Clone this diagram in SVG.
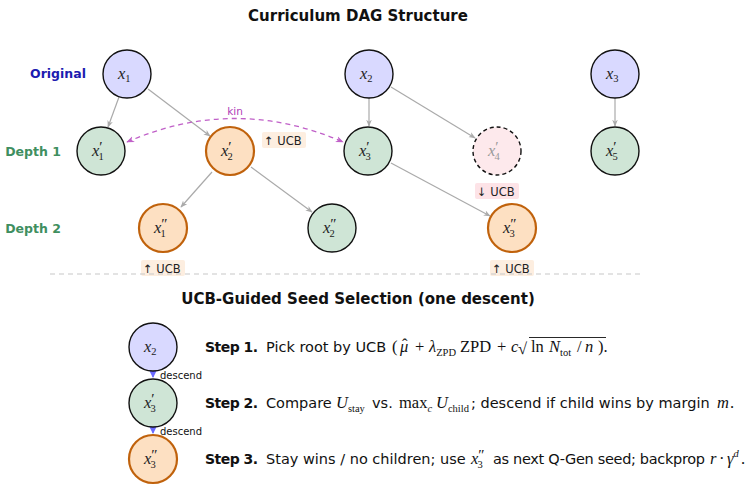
<svg xmlns="http://www.w3.org/2000/svg" width="754" height="491" viewBox="0 0 754 491">
<style>
.title{font-family:"DejaVu Sans",sans-serif;font-weight:bold;font-size:15px;fill:#111;text-anchor:middle}
.row{font-family:"DejaVu Sans",sans-serif;font-weight:bold;font-size:12.5px;text-anchor:middle}
.m{font-family:"Liberation Serif",serif;font-style:italic;font-size:16.5px;fill:#222}
.ms{font-family:"Liberation Serif",serif;font-style:normal;font-size:10.5px}
.mp{font-family:"Liberation Serif",serif;font-style:normal;font-size:15px}
.mu{font-family:"Liberation Serif",serif;font-size:16.5px;fill:#111}
.mi{font-family:"Liberation Serif",serif;font-style:italic;font-size:16.5px;fill:#111}
.sub{font-family:"Liberation Serif",serif;font-style:normal;font-size:10.5px}
.subi{font-family:"Liberation Serif",serif;font-style:italic;font-size:10.5px}
.body{font-family:"DejaVu Sans",sans-serif;font-size:14.5px;fill:#111}
.bold{font-family:"DejaVu Sans",sans-serif;font-weight:bold;font-size:14px;fill:#111}
.ucb{font-family:"DejaVu Sans",sans-serif;font-size:11.5px;fill:#222}
.orig{fill:#d9d9ff;stroke:#111;stroke-width:1.4}
.grn{fill:#cfe5d6;stroke:#111;stroke-width:1.4}
.org{fill:#fde0c2;stroke:#c0620c;stroke-width:2.2}
.pink{fill:#fde9ec;stroke:#111;stroke-width:1.4;stroke-dasharray:4,3}
.edge{stroke:#aaaaaa;stroke-width:1.2;fill:none;marker-end:url(#ga)}
.kin{stroke:#c060c8;stroke-width:1.3;fill:none;stroke-dasharray:5,4;marker-start:url(#ka);marker-end:url(#ka)}
</style>
<defs>
<marker id="ga" viewBox="0 0 10 10" refX="9" refY="5" markerWidth="7" markerHeight="7" orient="auto" markerUnits="userSpaceOnUse">
<path d="M0,1 L10,5 L0,9 L3,5 z" fill="#aaaaaa"/>
</marker>
<marker id="ka" viewBox="0 0 10 10" refX="9" refY="5" markerWidth="8" markerHeight="8" orient="auto-start-reverse" markerUnits="userSpaceOnUse">
<path d="M0,1 L10,5 L0,9 L3,5 z" fill="#c060c8"/>
</marker>
<marker id="ba" viewBox="0 0 10 10" refX="9" refY="5" markerWidth="9" markerHeight="9" orient="auto" markerUnits="userSpaceOnUse">
<path d="M0,0 L10,5 L0,10 z" fill="#6a6aff"/>
</marker>
</defs>
<rect width="754" height="491" fill="#fff"/>

<text class="title" x="358" y="21">Curriculum DAG Structure</text>
<text class="row" x="58" y="78" fill="#1c1cb0">Original</text>
<text class="row" x="33" y="156" fill="#3f8f60">Depth 1</text>
<text class="row" x="33" y="233" fill="#3f8f60">Depth 2</text>

<g id="connectors">
<path class="edge" d="M119,97 L108,127"/>
<path class="edge" d="M148,89 L210,136"/>
<path class="edge" d="M369,98 L369,126"/>
<path class="edge" d="M391,87 L475,138"/>
<path class="edge" d="M615,98 L615,126"/>
<path class="edge" d="M212,172 L181,207"/>
<path class="edge" d="M251,167 L312,212"/>
<path class="edge" d="M391,163 L490,216"/>
<path class="kin" d="M127,142 Q235,95 343,142"/>
<text x="235" y="115" font-family="DejaVu Sans,sans-serif" font-size="10.5" fill="#b040b8" text-anchor="middle">kin</text>
</g>

<g id="n_x1"><circle class="orig" cx="127" cy="74" r="24"/><text class="m" x="118" y="79">x<tspan class="ms" dy="3">1</tspan></text></g>
<g id="n_x2"><circle class="orig" cx="369" cy="74" r="24"/><text class="m" x="360" y="79">x<tspan class="ms" dy="3">2</tspan></text></g>
<g id="n_x3"><circle class="orig" cx="615" cy="74" r="24"/><text class="m" x="606" y="79">x<tspan class="ms" dy="3">3</tspan></text></g>

<g id="n_x1p"><circle class="grn" cx="101" cy="151" r="24"/><text class="m" x="92" y="156">x<tspan class="mp" dy="-4">′</tspan><tspan class="ms" dx="-4" dy="8">1</tspan></text></g>
<g id="n_x2p"><circle class="org" cx="230" cy="151" r="24"/><text class="m" x="221" y="156">x<tspan class="mp" dy="-4">′</tspan><tspan class="ms" dx="-4" dy="8">2</tspan></text></g>
<g id="n_x3p"><circle class="grn" cx="368" cy="151" r="24"/><text class="m" x="359" y="156">x<tspan class="mp" dy="-4">′</tspan><tspan class="ms" dx="-4" dy="8">3</tspan></text></g>
<g id="n_x4p"><circle class="pink" cx="497" cy="151" r="24"/><text class="m" x="488" y="156" style="fill:#999">x<tspan class="mp" dy="-4">′</tspan><tspan class="ms" dx="-4" dy="8">4</tspan></text></g>
<g id="n_x5p"><circle class="grn" cx="615" cy="151" r="24"/><text class="m" x="606" y="156">x<tspan class="mp" dy="-4">′</tspan><tspan class="ms" dx="-4" dy="8">5</tspan></text></g>

<g id="n_x1pp"><circle class="org" cx="163" cy="228" r="24"/><text class="m" x="154" y="233">x<tspan class="mp" dy="-4">″</tspan><tspan class="ms" dx="-7" dy="8">1</tspan></text></g>
<g id="n_x2pp"><circle class="grn" cx="332" cy="228" r="24"/><text class="m" x="323" y="233">x<tspan class="mp" dy="-4">″</tspan><tspan class="ms" dx="-7" dy="8">2</tspan></text></g>
<g id="n_x3pp"><circle class="org" cx="512" cy="228" r="24"/><text class="m" x="503" y="233">x<tspan class="mp" dy="-4">″</tspan><tspan class="ms" dx="-7" dy="8">3</tspan></text></g>

<g id="ucb_x2p"><rect x="262" y="132" width="44" height="16" rx="2" fill="#fdeee0"/><text class="ucb" x="264" y="145">↑ UCB</text></g>
<g id="ucb_x4p"><rect x="475" y="183" width="44" height="16" rx="2" fill="#fde3e7"/><text class="ucb" x="477" y="196">↓ UCB</text></g>
<g id="ucb_x1pp"><rect x="141" y="260" width="44" height="16" rx="2" fill="#fdeee0"/><text class="ucb" x="143" y="273">↑ UCB</text></g>
<g id="ucb_x3pp"><rect x="490" y="260" width="44" height="16" rx="2" fill="#fdeee0"/><text class="ucb" x="492" y="273">↑ UCB</text></g>

<line x1="50" y1="274" x2="640" y2="274" stroke="#c8c8c8" stroke-width="1.2" stroke-dasharray="5,4"/>

<text class="title" x="358" y="304">UCB-Guided Seed Selection (one descent)</text>

<g id="connectors_bottom">
<line x1="153" y1="366" x2="153" y2="377" stroke="#6a6aff" stroke-width="1.2" marker-end="url(#ba)"/>
<text x="160" y="379" font-family="DejaVu Sans,sans-serif" font-size="10" fill="#111">descend</text>
<line x1="153" y1="422" x2="153" y2="433" stroke="#6a6aff" stroke-width="1.2" marker-end="url(#ba)"/>
<text x="160" y="435" font-family="DejaVu Sans,sans-serif" font-size="10" fill="#111">descend</text>
</g>

<g id="s_x2"><circle class="orig" cx="153" cy="347" r="24"/><text class="m" x="144" y="352">x<tspan class="ms" dy="3">2</tspan></text></g>
<g id="s_x3p"><circle class="grn" cx="153" cy="403" r="24"/><text class="m" x="144" y="408">x<tspan class="mp" dy="-4">′</tspan><tspan class="ms" dx="-4" dy="8">3</tspan></text></g>
<g id="s_x3pp"><circle class="org" cx="153" cy="459" r="24"/><text class="m" x="144" y="464">x<tspan class="mp" dy="-4">″</tspan><tspan class="ms" dx="-7" dy="8">3</tspan></text></g>

<g id="step1">
<text class="bold" x="205" y="352" textLength="53">Step 1.</text>
<text class="body" x="266" y="352">Pick root by UCB</text>
<text class="mu" x="392" y="352">(</text>
<text class="mi" x="400" y="352">μ</text>
<text class="mu" x="402" y="350" font-size="13">ˆ</text>
<text class="mu" x="415" y="352">+</text>
<text class="mi" x="429" y="352">λ<tspan class="sub" font-size="9.5" dy="3.5">ZPD</tspan></text>
<text class="mu" x="460" y="352">ZPD</text>
<text class="mu" x="497" y="352">+</text>
<text class="mi" x="511" y="352">c</text>
<text class="mu" x="518" y="354" font-size="18">√</text>
<line x1="529" y1="337.5" x2="606" y2="337.5" stroke="#111" stroke-width="0.9"/>
<text class="mu" x="531" y="352">ln</text>
<text class="mi" x="549" y="352">N<tspan class="sub" dy="3.5">tot</tspan></text>
<text class="mu" x="577" y="352">/</text>
<text class="mi" x="585" y="352">n</text>
<text class="mu" x="598" y="352">).</text>
</g>

<g id="step2">
<text class="bold" x="205" y="408" textLength="53">Step 2.</text>
<text class="body" x="266" y="408">Compare</text>
<text class="mi" x="336" y="408">U<tspan class="sub" dy="3.5">stay</tspan></text>
<text class="body" x="372" y="408">vs.</text>
<text class="mu" x="399" y="408">max<tspan class="subi" dy="3.5">c</tspan></text>
<text class="mi" x="436" y="408">U<tspan class="sub" dy="3.5">child</tspan></text>
<text class="body" x="471" y="408">; descend if child wins by margin</text>
<text class="mi" x="717" y="408">m</text>
<text class="mu" x="730" y="408">.</text>
</g>

<g id="step3">
<text class="bold" x="205" y="464" textLength="53">Step 3.</text>
<text class="body" x="266" y="464">Stay wins / no children; use</text>
<text class="mi" x="471" y="464">x<tspan class="mp" dy="-4">″</tspan><tspan class="sub" dx="-7" dy="8">3</tspan></text>
<text class="body" x="493" y="464" textLength="212" lengthAdjust="spacing">as next Q-Gen seed; backprop</text>
<text class="mi" x="710" y="464">r</text>
<text class="mu" x="719" y="464">·</text>
<text class="mi" x="727" y="464">γ<tspan class="subi" dy="-7">d</tspan></text>
<text class="mu" x="741" y="464">.</text>
</g>
</svg>
